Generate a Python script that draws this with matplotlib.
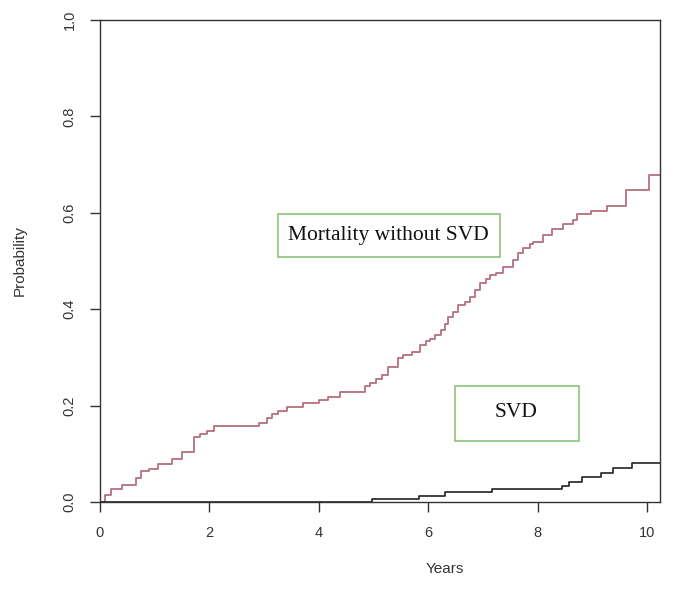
import matplotlib
matplotlib.use('Agg')
import matplotlib.pyplot as plt
from matplotlib.patches import Rectangle

# cumulative incidence (step functions)
mort_years = [0.0, 0.04, 0.1, 0.2, 0.4, 0.66, 0.75, 0.9, 1.06, 1.32, 1.5, 1.72, 1.83, 1.96,
              2.08, 2.9, 3.05, 3.14, 3.25, 3.42, 3.71, 4.0, 4.17, 4.39, 4.85, 4.94, 5.05,
              5.15, 5.27, 5.45, 5.54, 5.7, 5.85, 5.97, 6.03, 6.12, 6.23, 6.3, 6.37, 6.45,
              6.55, 6.67, 6.76, 6.86, 6.95, 7.05, 7.13, 7.24, 7.37, 7.55, 7.64, 7.73,
              7.86, 7.92, 8.1, 8.26, 8.46, 8.65, 8.72, 8.97, 9.27, 9.62, 10.04, 10.24]
mort_prob = [0.0, 0.0, 0.015, 0.027, 0.035, 0.05, 0.064, 0.068, 0.079, 0.09, 0.104, 0.135,
             0.141, 0.147, 0.158, 0.164, 0.174, 0.183, 0.189, 0.197, 0.205, 0.212, 0.218,
             0.228, 0.241, 0.247, 0.255, 0.263, 0.28, 0.298, 0.305, 0.311, 0.326, 0.333,
             0.338, 0.346, 0.357, 0.37, 0.384, 0.394, 0.409, 0.415, 0.425, 0.44, 0.454,
             0.463, 0.471, 0.475, 0.488, 0.502, 0.516, 0.527, 0.535, 0.54, 0.554, 0.566,
             0.577, 0.585, 0.597, 0.604, 0.614, 0.647, 0.678, 0.678]

svd_years = [0.0, 4.97, 5.83, 6.3, 7.17, 8.44, 8.57, 8.81, 9.16, 9.38, 9.73, 10.24]
svd_prob = [0.0, 0.006, 0.012, 0.021, 0.027, 0.033, 0.041, 0.052, 0.06, 0.07, 0.081, 0.081]

x_ticks = [0, 2, 4, 6, 8, 10]
y_ticks = [0.0, 0.2, 0.4, 0.6, 0.8, 1.0]

fig = plt.figure(figsize=(6.93, 5.89), dpi=100)
ax = fig.add_axes([100 / 693, 87 / 589, 560 / 693, 482 / 589])

ax.step(mort_years, mort_prob, where='post', color='#b5707f', lw=1.3)
ax.step(svd_years, svd_prob, where='post', color='#222222', lw=1.2)

ax.set_xlim(0, 10.24)
ax.set_ylim(0, 1.0)
ax.set_xticks(x_ticks)
ax.set_xticklabels([str(t) for t in x_ticks])
ax.set_yticks(y_ticks)
ax.set_yticklabels(['%.1f' % t for t in y_ticks], rotation=90, va='center')

for s in ax.spines.values():
    s.set_color('#333333')
    s.set_linewidth(1.0)
ax.tick_params(axis='both', direction='out', length=7, width=1.0, color='#333333',
               labelsize=10.5, labelcolor='#333333', labelfontfamily='Liberation Sans')
ax.tick_params(axis='x', pad=10)
ax.tick_params(axis='y', pad=10)

ax.set_xlabel('Years', fontsize=11, family='Liberation Sans', color='#333333')
ax.set_ylabel('Probability', fontsize=11, family='Liberation Sans', color='#333333')
ax.xaxis.set_label_coords(345 / 560, -60 / 482)
ax.yaxis.set_label_coords(-73 / 560, 0.5)

# label boxes
ax.add_patch(Rectangle((3.25, 0.508), 4.06, 0.09, fill=False, ec='#8cc27a', lw=1.2))
ax.text(5.27, 0.552, 'Mortality without SVD', ha='center', va='center',
        family='Liberation Serif', fontsize=15.5, color='#111111')
ax.add_patch(Rectangle((6.49, 0.127), 2.27, 0.114, fill=False, ec='#8cc27a', lw=1.2))
ax.text(7.6, 0.185, 'SVD', ha='center', va='center',
        family='Liberation Serif', fontsize=15.5, color='#111111')

fig.savefig('out.png', dpi=100)
